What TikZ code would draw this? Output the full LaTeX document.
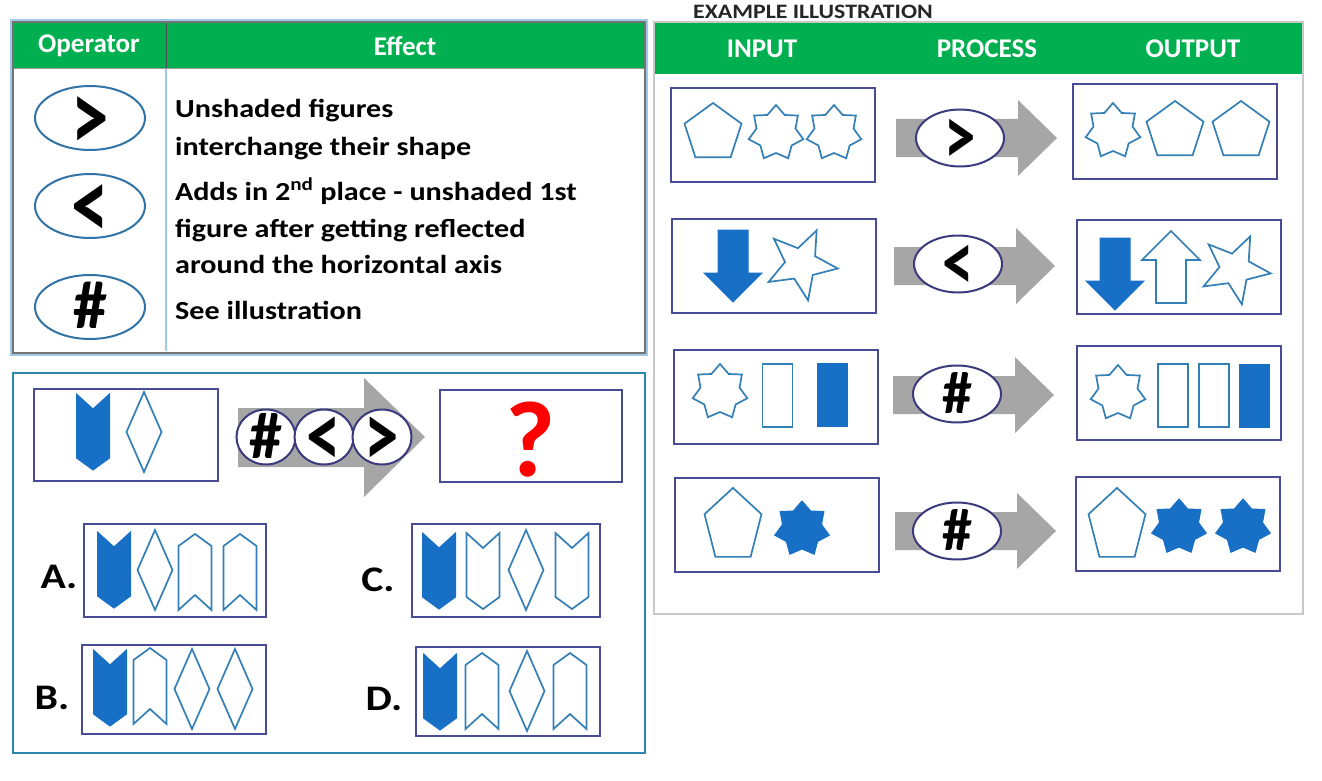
\documentclass[tikz,border=0pt]{standalone}
\usepackage{graphicx}
\usepackage{fontspec}
\setmainfont{Carlito}
\newfontfamily\widefont{Carlito}[FakeStretch=1.16]
\usetikzlibrary{shapes.geometric,positioning}

\definecolor{hdrgreen}{RGB}{0,176,80}
\definecolor{shpblue}{RGB}{52,128,182}
\definecolor{solblue}{RGB}{24,112,198}
\definecolor{boxnavy}{RGB}{72,76,150}
\definecolor{opnavy}{RGB}{58,58,125}
\definecolor{opteal}{RGB}{50,115,165}
\definecolor{panteal}{RGB}{46,134,176}
\definecolor{arrgray}{RGB}{166,166,166}
\definecolor{rulegray}{RGB}{200,200,200}
\definecolor{lightrule}{RGB}{160,200,232}

% operator glyphs: narrowed, and set with no height so the ellipse keeps its size
\newcommand{\narrow}[1]{\scalebox{0.75}[1]{#1}}
\newcommand{\opchar}[1]{\raisebox{-0.32em}[0pt][0pt]{#1}}

\tikzset{
  chevdn/.pic={\path[pic actions] (-16.5,-38) -- (0,-23) -- (16.5,-38) -- (16.5,26) -- (0,38) -- (-16.5,26) -- cycle;},
  chevup/.pic={\path[pic actions] (-16.5,38) -- (0,23) -- (16.5,38) -- (16.5,-26) -- (0,-38) -- (-16.5,-26) -- cycle;},
  diam/.pic={\path[pic actions] (0,-40) -- (17.5,0) -- (0,40) -- (-17.5,0) -- cycle;},
  pent/.pic={\path[pic actions] (0,-30) -- (28.5,-9.3) -- (17.6,24.3) -- (-17.6,24.3) -- (-28.5,-9.3) -- cycle;},
  dnarr/.pic={\path[pic actions] (-15,-36) -- (15,-36) -- (15,7) -- (29,7) -- (0,36) -- (-29,7) -- (-15,7) -- cycle;},
  procarr/.pic={\path[pic actions] (0,-19) -- (122,-19) -- (122,-38) -- (161,0) -- (122,38) -- (122,19) -- (0,19) -- cycle;},
}

\begin{document}
\begin{tikzpicture}[x=1pt, y=-1pt,
  hdrtxt/.style={text=white, font=\bfseries\fontsize{27}{30}\selectfont},
  efftxt/.style={anchor=base west, inner sep=0pt, font=\widefont\bfseries\fontsize{26}{30}\selectfont},
  opfont/.style={font=\bfseries\fontsize{#1}{#1}\selectfont},
  opell/.style={ellipse, draw=opteal, line width=2pt, fill=white, minimum width=110pt, minimum height=64pt, inner sep=0pt},
  procell/.style={opell, draw=opnavy, minimum width=88pt, minimum height=57pt},
  qcirc/.style={opell, draw=opnavy, minimum width=59pt, minimum height=55pt},
  figbox/.style={draw=boxnavy, line width=2pt, inner sep=0pt},
  exbox/.style={figbox, minimum width=204pt, minimum height=94pt},
  fig/.style={draw=shpblue, line width=1.7pt, fill=white, line join=miter},
  figfill/.style={draw=solblue, fill=solblue, line width=1pt},
  sev/.style={star, star points=7, star point ratio=1.4, minimum size=56pt, inner sep=0pt},
  five/.style={star, star points=5, star point ratio=2.3, minimum size=74pt, inner sep=0pt, rotate=-25},
  bar/.style={rectangle, minimum width=30pt, minimum height=63pt, inner sep=0pt},
  optlbl/.style={font=\widefont\bfseries\fontsize{36}{38}\selectfont}
]
\useasboundingbox[fill=white] (0,0) rectangle (1322,781);

% operator table
\draw[lightrule, line width=1.5pt] (11,20) rectangle (647,355);
\fill[hdrgreen] (13,22) rectangle (645,68);
\draw[black!70, line width=1pt] (166,22) -- (166,68);
\draw[lightrule, line width=1.5pt] (166,68) -- (166,351);
\draw[black!40] (13,68) -- (645,68);
\draw[black!55, line width=1.5pt] (13,22) rectangle (645,353);
\node[hdrtxt] (opHdr) at (89,46) {Operator};
\node[hdrtxt] (effHdr) at (405,46) {Effect};

\node[opell, opfont=100] (gtOp) at (90,118) {\opchar{\narrow{>}}};
\node[opell, opfont=100] (ltOp) at (90,206) {\opchar{\narrow{<}}};
\node[opell, opfont=68] (hashOp) at (90,307) {\opchar{\#}};

\node[efftxt] (eff1a) at (175,118) {Unshaded figures};
\node[efftxt] (eff1b) at (175,155) {interchange their shape};
\node[efftxt] (eff2a) at (175,200) {Adds in 2\textsuperscript{nd} place - unshaded 1st};
\node[efftxt] (eff2b) at (175,237) {figure after getting reflected};
\node[efftxt] (eff2c) at (175,273) {around the horizontal axis};
\node[efftxt] (eff3) at (175,319) {See illustration};

% example illustration
\node[font=\widefont\bfseries\fontsize{20.5}{24}\selectfont, text=black!85] (exTitle) at (813,12) {EXAMPLE ILLUSTRATION};
\fill[hdrgreen] (654,22) rectangle (1303,74);
\draw[rulegray, line width=1.5pt] (654,22) rectangle (1303,614);
\node[hdrtxt] (inHdr) at (762,49) {INPUT};
\node[hdrtxt] (prHdr) at (987,49) {PROCESS};
\node[hdrtxt] (outHdr) at (1193,49) {OUTPUT};

\node[exbox] (in1) at (772.5,135) {};
\node[exbox] (out1) at (1175,131.5) {};
\node[exbox] (in2) at (774,265.5) {};
\node[exbox] (out2) at (1178.5,267) {};
\node[exbox] (in3) at (776,396.5) {};
\node[exbox] (out3) at (1179,392.5) {};
\node[exbox] (in4) at (777,524.5) {};
\node[exbox] (out4) at (1177.5,523.5) {};

\pic[fill=arrgray] at (896,138) {procarr};
\pic[fill=arrgray] at (894,266) {procarr};
\pic[fill=arrgray] at (893,395) {procarr};
\pic[fill=arrgray] at (895,531) {procarr};
\node[procell, opfont=84] (pr1) at (960,138) {\opchar{\narrow{>}}};
\node[procell, opfont=84] (pr2) at (958,264) {\opchar{\narrow{<}}};
\node[procell, opfont=60] (pr3) at (957,394) {\opchar{\#}};
\node[procell, opfont=60] (pr4) at (957,531) {\opchar{\#}};

% row 1
\pic[fig] at (713,133) {pent};
\node[sev, fig] (s1a) at (776,133) {};
\node[sev, fig] (s1b) at (834,133) {};
\node[sev, fig] (s1c) at (1113,131) {};
\pic[fig] at (1175,131) {pent};
\pic[fig] at (1241,131) {pent};
% row 2
\pic[figfill] at (733,266) {dnarr};
\node[five, fig] (f2a) at (801,264) {};
\pic[figfill] at (1115,274) {dnarr};
\pic[fig, yscale=-1] at (1171,267) {dnarr};
\node[five, fig, minimum size=72pt] (f2b) at (1235,269) {};
% row 3
\node[sev, fig] (s3a) at (720,392) {};
\node[bar, fig] (b3a) at (777.5,395.5) {};
\node[bar, figfill] (b3b) at (832,395) {};
\node[sev, fig] (s3b) at (1118,393) {};
\node[bar, fig] (b3c) at (1173,395.5) {};
\node[bar, fig] (b3d) at (1214,395.5) {};
\node[bar, figfill] (b3e) at (1254,396) {};
% row 4
\pic[fig, yscale=1.27] at (733,526) {pent};
\node[sev, figfill] (s4a) at (802,529) {};
\pic[fig, yscale=1.27] at (1117,526) {pent};
\node[sev, figfill] (s4b) at (1179,527) {};
\node[sev, figfill] (s4c) at (1243,527) {};

% question
\draw[panteal, line width=2.5pt] (13,373) rectangle (645,753);
\node[figbox, minimum width=184pt, minimum height=92pt] (qIn) at (126,435) {};
\pic[figfill] at (93,432) {chevdn};
\pic[fig] at (144,432) {diam};
\fill[arrgray] (238,408) -- (364,408) -- (364,378) -- (425,437) -- (364,497) -- (364,467) -- (238,467) -- cycle;
\node[qcirc, opfont=66] (qHash) at (266,437) {\opchar{\#}};
\node[qcirc, opfont=92] (qLt) at (324,437) {\opchar{\narrow{<}}};
\node[qcirc, opfont=92] (qGt) at (382,437) {\opchar{\narrow{>}}};
\node[figbox, minimum width=182pt, minimum height=92pt] (qOut) at (531,436) {};
\node[text=red, font=\bfseries\fontsize{108}{108}\selectfont] (qMark) at (531,440) {?};

% options
\node[figbox, minimum width=182pt, minimum height=93pt] (optA) at (175,570.5) {};
\node[figbox, minimum width=188pt, minimum height=93pt] (optC) at (506,570.5) {};
\node[figbox, minimum width=184pt, minimum height=89pt] (optB) at (174,689.5) {};
\node[figbox, minimum width=184pt, minimum height=89pt] (optD) at (508,691.5) {};
\node[optlbl] (lblA) at (59,577) {A.};
\node[optlbl] (lblC) at (378,580) {C.};
\node[optlbl] (lblB) at (52,698) {B.};
\node[optlbl] (lblD) at (384,699) {D.};

\pic[figfill] at (114,570) {chevdn};
\pic[fig] at (155,570) {diam};
\pic[fig] at (195,572) {chevup};
\pic[fig] at (240,572) {chevup};

\pic[figfill] at (110,688) {chevdn};
\pic[fig] at (150,686) {chevup};
\pic[fig] at (192,689) {diam};
\pic[fig] at (235,689) {diam};

\pic[figfill] at (439,571) {chevdn};
\pic[fig] at (483,571) {chevdn};
\pic[fig] at (526,570) {diam};
\pic[fig] at (572,571) {chevdn};

\pic[figfill] at (440,692) {chevdn};
\pic[fig] at (482,691) {chevup};
\pic[fig] at (527,691) {diam};
\pic[fig] at (570,691) {chevup};
\end{tikzpicture}
\end{document}
